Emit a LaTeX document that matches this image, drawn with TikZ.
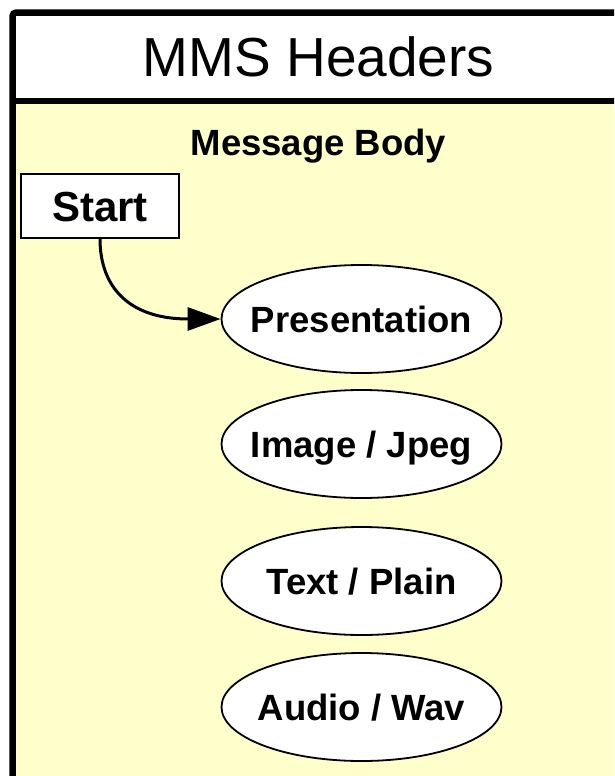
\documentclass[tikz,border=0pt]{standalone}
\usepackage{fontspec}
\setmainfont{Liberation Sans}
\usetikzlibrary{shapes.geometric,arrows.meta}
\definecolor{bodyyellow}{HTML}{FFFFCC}
\newcommand{\zw}[1]{\makebox[0pt][c]{#1}}
\tikzset{
  itemell/.style={ellipse, draw=black, fill=white, line width=1.8pt,
    minimum width=280pt, minimum height=108pt, inner sep=0pt,
    font=\fontsize{36.5}{40}\selectfont\bfseries, text height=26pt, text depth=0pt},
  startbox/.style={rectangle, draw=black, fill=white, line width=1.4pt,
    minimum width=158pt, minimum height=64pt, inner sep=0pt,
    font=\fontsize{42}{46}\selectfont\bfseries, text height=30pt, text depth=0pt},
  frame/.style={draw=black, line width=6.5pt},
  flow/.style={draw=black, line width=3pt, -{Triangle[length=33pt,width=23pt]}}
}
\begin{document}
\begin{tikzpicture}[x=1pt,y=-1pt]
\useasboundingbox (0,0) rectangle (614,776);
\begin{scope}
\clip (0,0) rectangle (614,776);
\fill[bodyyellow] (12.7,101) rectangle (660,830);
\fill[white] (12.7,12.7) rectangle (660,101);
\draw[frame, rounded corners=3pt] (12.7,830) -- (12.7,12.7) -- (660,12.7);
\draw[frame] (12.7,101) -- (660,101);
\end{scope}
\node[font=\fontsize{55}{60}\selectfont, anchor=base] (hdr) at (318.5,77) {MMS Headers};
\node[font=\fontsize{36.5}{40}\selectfont\bfseries, anchor=base] (body) at (318.5,155) {Message Body};
\node[startbox] (start) at (100,206) {Start};
\node[itemell] (pres) at (361.5,319) {\zw{Presentation}};
\node[itemell] (img) at (361.5,444) {\zw{Image / Jpeg}};
\node[itemell] (txt) at (361.5,581) {\zw{Text / Plain}};
\node[itemell] (aud) at (361.5,707) {\zw{Audio / Wav}};
\draw[flow] (start.south) .. controls +(0,50) and +(-90,0) .. (pres.west);
\end{tikzpicture}
\end{document}
